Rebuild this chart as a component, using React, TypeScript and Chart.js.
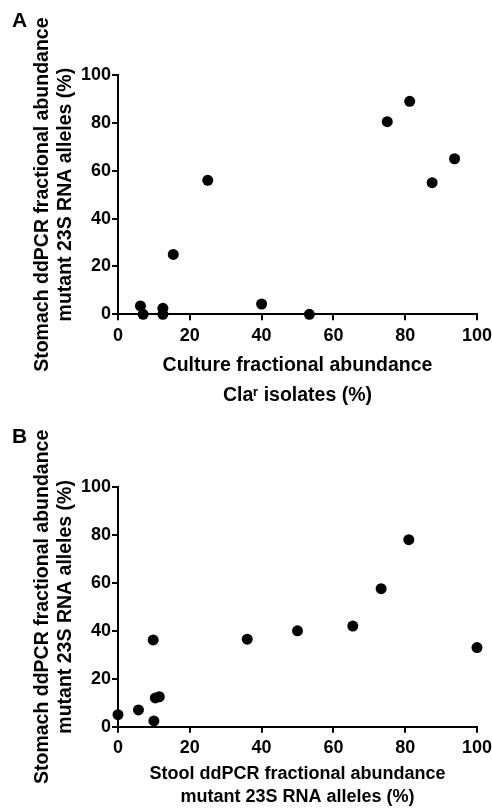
import React, { useEffect, useRef } from "react";
import { Chart, registerables } from "chart.js";

Chart.register(...registerables);

// Panel A: culture vs stomach ddPCR
const cultureClarPctA = [6.25, 7, 12.5, 12.5, 15.4, 25, 40, 53.3, 75, 81.25, 87.5, 93.75];
const stomachMutPctA = [3.5, 0, 2.5, 0, 25, 56, 4.3, 0, 80.5, 89, 55, 65];

// Panel B: stool ddPCR vs stomach ddPCR
const stoolMutPctB = [0, 5.7, 9.8, 10, 10.4, 11.5, 36, 50, 65.4, 73.3, 81, 100];
const stomachMutPctB = [5, 7, 36.2, 2.4, 12, 12.5, 36.5, 40, 42, 57.6, 78, 33];

const axisTicks = [0, 20, 40, 60, 80, 100];

const yTitleLines = ["Stomach ddPCR fractional abundance", "mutant 23S RNA alleles (%)"];
const xTitleLinesA = ["Culture fractional abundance", "Cla\u02B3 isolates (%)"];
const xTitleLinesB = ["Stool ddPCR fractional abundance", "mutant 23S RNA alleles (%)"];

const FAMILY = '"Liberation Sans", Arial, Helvetica, sans-serif';
const W = 492;

type PanelSpec = {
  letter: string;
  letterY: number;
  xs: number[];
  ys: number[];
  xTitle: string[];
  xTitleSize: number;
  xTitleLH: number;
  xTitlePad: number;
  height: number;
  left: number;
  right: number;
  top: number;
  bottom: number;
};

function makeConfig(p: PanelSpec): any {
  const letterPlugin = {
    id: "panelLetter",
    afterDraw(chart: any) {
      const ctx = chart.ctx;
      ctx.save();
      ctx.font = `bold 21px ${FAMILY}`;
      ctx.fillStyle = "#000";
      ctx.textBaseline = "alphabetic";
      ctx.textAlign = "left";
      ctx.fillText(p.letter, 12, p.letterY);
      ctx.restore();
    },
  };
  const tickFont = { family: FAMILY, size: 18, weight: "bold" as const };
  const grid = {
    display: true,
    drawOnChartArea: false,
    drawTicks: true,
    tickLength: 6,
    color: "#000",
    lineWidth: 2,
  };
  const border = { display: true, color: "#000", width: 2 };
  return {
    type: "scatter",
    data: {
      datasets: [
        {
          data: p.xs.map((x, i) => ({ x, y: p.ys[i] })),
          backgroundColor: "#000",
          borderColor: "#000",
          borderWidth: 0,
          pointRadius: 5.5,
          pointHoverRadius: 5.5,
          clip: false,
        },
      ],
    },
    options: {
      animation: false,
      responsive: false,
      maintainAspectRatio: false,
      devicePixelRatio: 1,
      layout: { padding: { top: p.top, right: W - p.right, left: 0, bottom: 0 } },
      plugins: { legend: { display: false }, tooltip: { enabled: false }, title: { display: false } },
      scales: {
        x: {
          type: "linear",
          position: "bottom",
          min: 0,
          max: 100,
          grid,
          border,
          afterBuildTicks: (s: any) => {
            s.ticks = axisTicks.map((v) => ({ value: v }));
          },
          afterFit: (s: any) => {
            s.height = p.height - p.bottom;
            s.paddingLeft = 0;
            s.paddingRight = 0;
          },
          ticks: { color: "#000", font: tickFont, padding: 5, autoSkip: false, maxRotation: 0 },
          title: {
            display: true,
            text: p.xTitle,
            color: "#000",
            font: { family: FAMILY, size: p.xTitleSize, weight: "bold", lineHeight: p.xTitleLH },
            padding: { top: 0, bottom: p.xTitlePad },
          },
        },
        y: {
          type: "linear",
          position: "left",
          min: 0,
          max: 100,
          grid,
          border,
          afterBuildTicks: (s: any) => {
            s.ticks = axisTicks.map((v) => ({ value: v }));
          },
          afterFit: (s: any) => {
            s.width = p.left;
            s.paddingTop = 0;
            s.paddingBottom = 0;
          },
          ticks: { color: "#000", font: tickFont, padding: 1, autoSkip: false },
          title: {
            display: true,
            text: yTitleLines,
            color: "#000",
            font: { family: FAMILY, size: 19.5, weight: "bold", lineHeight: 23 / 19.5 },
            padding: { top: 31.2, bottom: 0 },
          },
        },
      },
    },
    plugins: [letterPlugin],
  };
}

function Panel({ spec, top }: { spec: PanelSpec; top: number }) {
  const ref = useRef<HTMLCanvasElement | null>(null);
  useEffect(() => {
    if (!ref.current) return;
    const chart = new Chart(ref.current, makeConfig(spec));
    return () => chart.destroy();
  }, []);
  return (
    <canvas
      ref={ref}
      width={W}
      height={spec.height}
      style={{ position: "absolute", left: 0, top, width: W, height: spec.height }}
    />
  );
}

const panelA: PanelSpec = {
  letter: "A",
  letterY: 27,
  xs: cultureClarPctA,
  ys: stomachMutPctA,
  xTitle: xTitleLinesA,
  xTitleSize: 19.5,
  xTitleLH: 30 / 19.5,
  xTitlePad: 9.8,
  height: 420,
  left: 118,
  right: 477,
  top: 75,
  bottom: 314.3,
};

const panelB: PanelSpec = {
  letter: "B",
  letterY: 39,
  xs: stoolMutPctB,
  ys: stomachMutPctB,
  xTitle: xTitleLinesB,
  xTitleSize: 18,
  xTitleLH: 23 / 18,
  xTitlePad: 0.5,
  height: 405,
  left: 118,
  right: 477,
  top: 83,
  bottom: 322.7,
};

export default function App() {
  useEffect(() => {
    document.body.style.margin = "0";
    document.body.style.background = "#fff";
  }, []);
  return (
    <div style={{ position: "relative", width: W, height: 809, background: "#fff" }}>
      <Panel spec={panelA} top={0} />
      <Panel spec={panelB} top={404} />
    </div>
  );
}
